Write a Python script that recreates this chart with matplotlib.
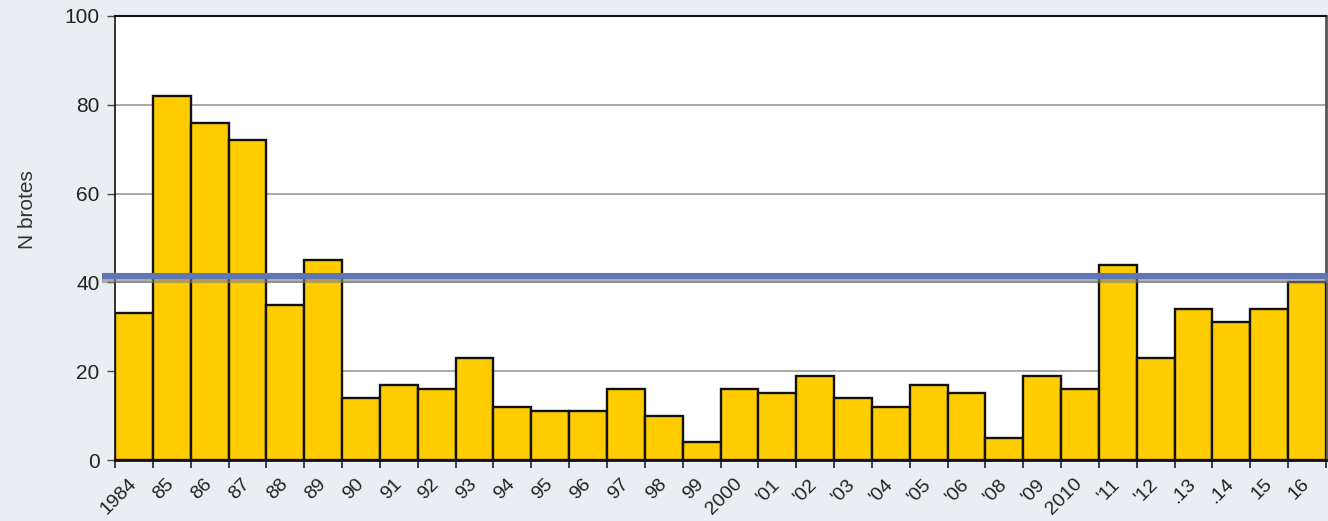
import numpy as np
import matplotlib
matplotlib.use("Agg")
import matplotlib.pyplot as plt
import matplotlib.patheffects as pe

plt.rcParams['font.family'] = ['Liberation Sans', 'DejaVu Sans']

# Data
years = ["1984", "85", "86", "87", "88", "89", "90", "91", "92", "93", "94", "95",
         "96", "97", "98", "99", "2000", "'01", "'02", "'03", "'04", "'05", "'06",
         "'08", "'09", "2010", "'11", "'12", ".13", ".14", "15", "16"]
brotes = [33, 82, 76, 72, 35, 45, 14, 17, 16, 23, 12, 11, 11, 16, 10, 4, 16, 15,
          19, 14, 12, 17, 15, 5, 19, 16, 44, 23, 34, 31, 34, 40]
threshold = 41.4

fig = plt.figure(figsize=(13.28, 5.21), dpi=100, facecolor="#eaedf2")
ax = fig.add_axes([115 / 1328, 1 - 460 / 521, 1211 / 1328, 444 / 521])
ax.set_facecolor("white")

x = np.arange(len(brotes))
ax.bar(x, brotes, width=1.0, color="#ffcc00", edgecolor="#111111", linewidth=1.7,
       zorder=3)

ax.set_xlim(-0.5, len(brotes) - 0.5)
ax.set_ylim(0, 100)
ax.set_yticks([0, 20, 40, 60, 80, 100])
ax.yaxis.grid(True, color="#a8a8a8", linewidth=1.4, zorder=0)
ax.set_axisbelow(True)

# year labels under bar centres, tick marks on bar edges
ax.set_xticks(x)
ax.set_xticklabels(years, rotation=45, ha="right", va="center", rotation_mode="anchor",
                   fontsize=14, color="#222222")
ax.tick_params(axis="x", which="major", length=0, pad=15.5)
ax.set_xticks(np.arange(len(brotes) + 1) - 0.5, minor=True)
ax.tick_params(axis="x", which="minor", length=6, width=1.2, color="#222222")
ax.tick_params(axis="y", length=6, width=1.0, color="#444444", labelsize=15,
               labelcolor="#222222", pad=5)

for side in ["left", "bottom", "top"]:
    ax.spines[side].set_color("#111111")
ax.spines["left"].set_linewidth(1.2)
ax.spines["bottom"].set_linewidth(2.0)
ax.spines["top"].set_linewidth(1.5)
ax.spines["right"].set_color("#555555")
ax.spines["right"].set_linewidth(2.0)

ax.set_ylabel("N brotes", fontsize=15, color="#333333")
ax.yaxis.set_label_coords(-0.064, 0.563)

# threshold line with drop shadow
ax.axhline(threshold, xmin=-0.008, xmax=1.0, color="#6076b4", linewidth=4.4,
           zorder=5, clip_on=False,
           path_effects=[pe.SimpleLineShadow(offset=(0, -3), shadow_color="#808080",
                                             alpha=0.6), pe.Normal()])

fig.savefig("out.png", dpi=100, facecolor=fig.get_facecolor())
